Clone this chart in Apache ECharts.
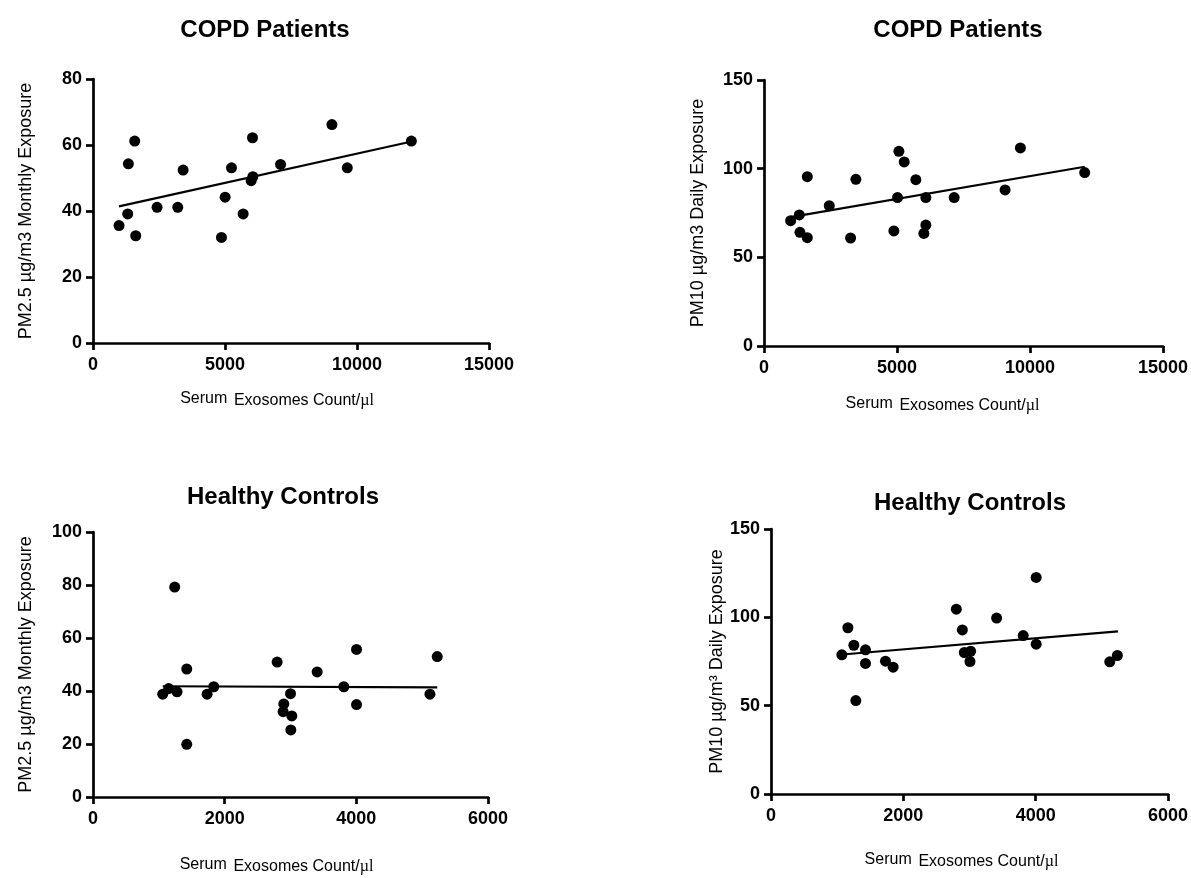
<html>
<head>
    <meta http-equiv="Content-Type" content="text/html; charset=utf-8" />
    <title>Exosomes vs PM exposure</title>
    <style>
        body { margin: 0; background: #fff; }
        #container { width: 1191px; height: 878px; }
    </style>
</head>
<body>
    <div id="container"></div>
    <script src="https://cdn.jsdelivr.net/npm/echarts@6/dist/echarts.min.js"></script>
    <script type="text/javascript">
    // COPD patients: exosome count vs PM2.5 monthly
    var copdPm25X = [986, 1315, 1340, 1580, 1618, 2427, 3211, 3413, 4866, 5005, 5246, 5688, 5991, 6055, 6042, 7104, 9050, 9632, 12059];
    var copdPm25Y = [35.6, 39.1, 54.3, 61.2, 32.5, 41.1, 41.1, 52.4, 32.0, 44.2, 53.1, 39.1, 49.2, 50.4, 62.2, 54.1, 66.2, 53.1, 61.2];
    var copdPm25FitX = [986, 12030];
    var copdPm25FitY = [41.4, 61.0];

    // COPD patients: exosome count vs PM10 daily
    var copdPm10X = [1002, 1327, 1352, 1628, 1628, 2454, 3255, 3455, 4883, 5020, 5071, 5271, 5709, 6010, 6085, 6085, 7149, 9064, 9640, 12057];
    var copdPm10Y = [70.7, 73.9, 64.1, 61.1, 95.5, 79.1, 60.9, 94.0, 64.9, 83.7, 109.8, 103.8, 93.8, 63.5, 68.2, 83.7, 83.7, 88.0, 111.7, 97.8];
    var copdPm10FitX = [1000, 12057];
    var copdPm10FitY = [72.7, 101.1];

    // healthy controls: exosome count vs PM2.5 monthly
    var hcPm25X = [1059, 1150, 1277, 1241, 1424, 1424, 1733, 1834, 2797, 2898, 2888, 3000, 3020, 3005, 3405, 3810, 4003, 4003, 5118, 5229];
    var hcPm25Y = [38.8, 40.9, 39.7, 79.2, 48.3, 19.9, 38.8, 41.6, 50.9, 35.1, 32.2, 39.0, 30.6, 25.3, 47.2, 41.6, 55.7, 34.9, 38.8, 53.0];
    var hcPm25FitX = [1059, 5229];
    var hcPm25FitY = [41.8, 41.4];

    // healthy controls: exosome count vs PM10 daily
    var hcPm10X = [1071, 1162, 1252, 1282, 1428, 1428, 1730, 1846, 2801, 2892, 2922, 3017, 3007, 3410, 3812, 4008, 4008, 5120, 5235];
    var hcPm10Y = [78.8, 94.1, 84.2, 52.9, 81.6, 73.9, 75.2, 71.8, 104.6, 92.9, 80.1, 80.8, 75.0, 99.6, 89.7, 122.6, 84.8, 74.8, 78.4];
    var hcPm10FitX = [1121, 5245];
    var hcPm10FitY = [79.1, 92.0];

    var panelTitles = ['COPD Patients', 'COPD Patients', 'Healthy Controls', 'Healthy Controls'];
    var yNames = ['PM2.5 µg/m3 Monthly Exposure', 'PM10 µg/m3 Daily Exposure', 'PM2.5 µg/m3 Monthly Exposure', 'PM10 µg/m³ Daily Exposure'];
    var xName = '{s|Serum}  {e|Exosomes Count/}{u|µl}';
    var xMax = [15000, 15000, 6000, 6000];
    var xStep = [5000, 5000, 2000, 2000];
    var yMax = [80, 150, 100, 150];
    var yStep = [20, 50, 20, 50];

    var FONT = 'Liberation Sans, Arial, sans-serif';

    function zip(xs, ys) {
        var out = [];
        for (var i = 0; i < xs.length; i++) out.push([xs[i], ys[i]]);
        return out;
    }

    var grids = [
        { left: 93, top: 79, width: 396, height: 264 },
        { left: 764, top: 80, width: 399, height: 266 },
        { left: 93, top: 532, width: 395, height: 265 },
        { left: 771, top: 529, width: 398, height: 265 }
    ];
    var xNameGap = [48, 50, 60, 58];
    var xNamePad = [[0, 28, 0, 0], [0, 42, 0, 0], [0, 28, 0, 0], [0, 16, 0, 0]];
    var yNameGap = [58, 57, 58, 42];
    var titlePos = [[265, 30], [958, 30], [283, 497], [970, 503]];

    var axisLine = { lineStyle: { color: '#000', width: 2.7 } };
    var axisTick = { length: 7, lineStyle: { color: '#000', width: 2.7 } };

    var xAxes = [], yAxes = [], graphics = [];
    for (var i = 0; i < 4; i++) {
        xAxes.push({
            gridIndex: i, type: 'value', min: 0, max: xMax[i], interval: xStep[i],
            splitLine: { show: false },
            axisLine: axisLine, axisTick: axisTick,
            axisLabel: {
                color: '#000', fontFamily: FONT, fontWeight: 'bold', fontSize: 18, margin: 13,
                formatter: function (v) { return String(v); }
            },
            name: xName, nameLocation: 'middle', nameGap: xNameGap[i],
            nameTextStyle: {
                padding: xNamePad[i],
                rich: {
                    s: { fontFamily: FONT, fontSize: 16, color: '#000', padding: [0, 0, 4, 0] },
                    e: { fontFamily: FONT, fontSize: 16, color: '#000' },
                    u: { fontFamily: 'Liberation Serif, Times New Roman, serif', fontSize: 16, color: '#000' }
                }
            }
        });
        yAxes.push({
            gridIndex: i, type: 'value', min: 0, max: yMax[i], interval: yStep[i],
            splitLine: { show: false },
            axisLine: axisLine, axisTick: axisTick,
            axisLabel: { color: '#000', fontFamily: FONT, fontWeight: 'bold', fontSize: 18, margin: 11 },
            name: yNames[i], nameLocation: 'middle', nameGap: yNameGap[i],
            nameTextStyle: { color: '#000', fontFamily: FONT, fontSize: 18 }
        });
        graphics.push({
            type: 'text', x: titlePos[i][0], y: titlePos[i][1],
            style: {
                text: panelTitles[i], align: 'center', verticalAlign: 'middle',
                font: 'bold 24px ' + FONT, fill: '#000'
            }
        });
    }

    var dots = [zip(copdPm25X, copdPm25Y), zip(copdPm10X, copdPm10Y), zip(hcPm25X, hcPm25Y), zip(hcPm10X, hcPm10Y)];
    var fits = [zip(copdPm25FitX, copdPm25FitY), zip(copdPm10FitX, copdPm10FitY), zip(hcPm25FitX, hcPm25FitY), zip(hcPm10FitX, hcPm10FitY)];

    var series = [];
    for (var j = 0; j < 4; j++) {
        series.push({
            type: 'line', xAxisIndex: j, yAxisIndex: j, data: fits[j],
            showSymbol: false, silent: true,
            lineStyle: { color: '#000', width: 2.2 }
        });
        series.push({
            type: 'scatter', xAxisIndex: j, yAxisIndex: j, data: dots[j],
            symbol: 'circle', symbolSize: 11,
            itemStyle: { color: '#000', opacity: 1 }
        });
    }

    var myChart = echarts.init(document.getElementById('container'));
    myChart.setOption({
        animation: false,
        backgroundColor: '#fff',
        grid: grids,
        xAxis: xAxes,
        yAxis: yAxes,
        graphic: graphics,
        series: series
    });
    </script>
</body>
</html>
